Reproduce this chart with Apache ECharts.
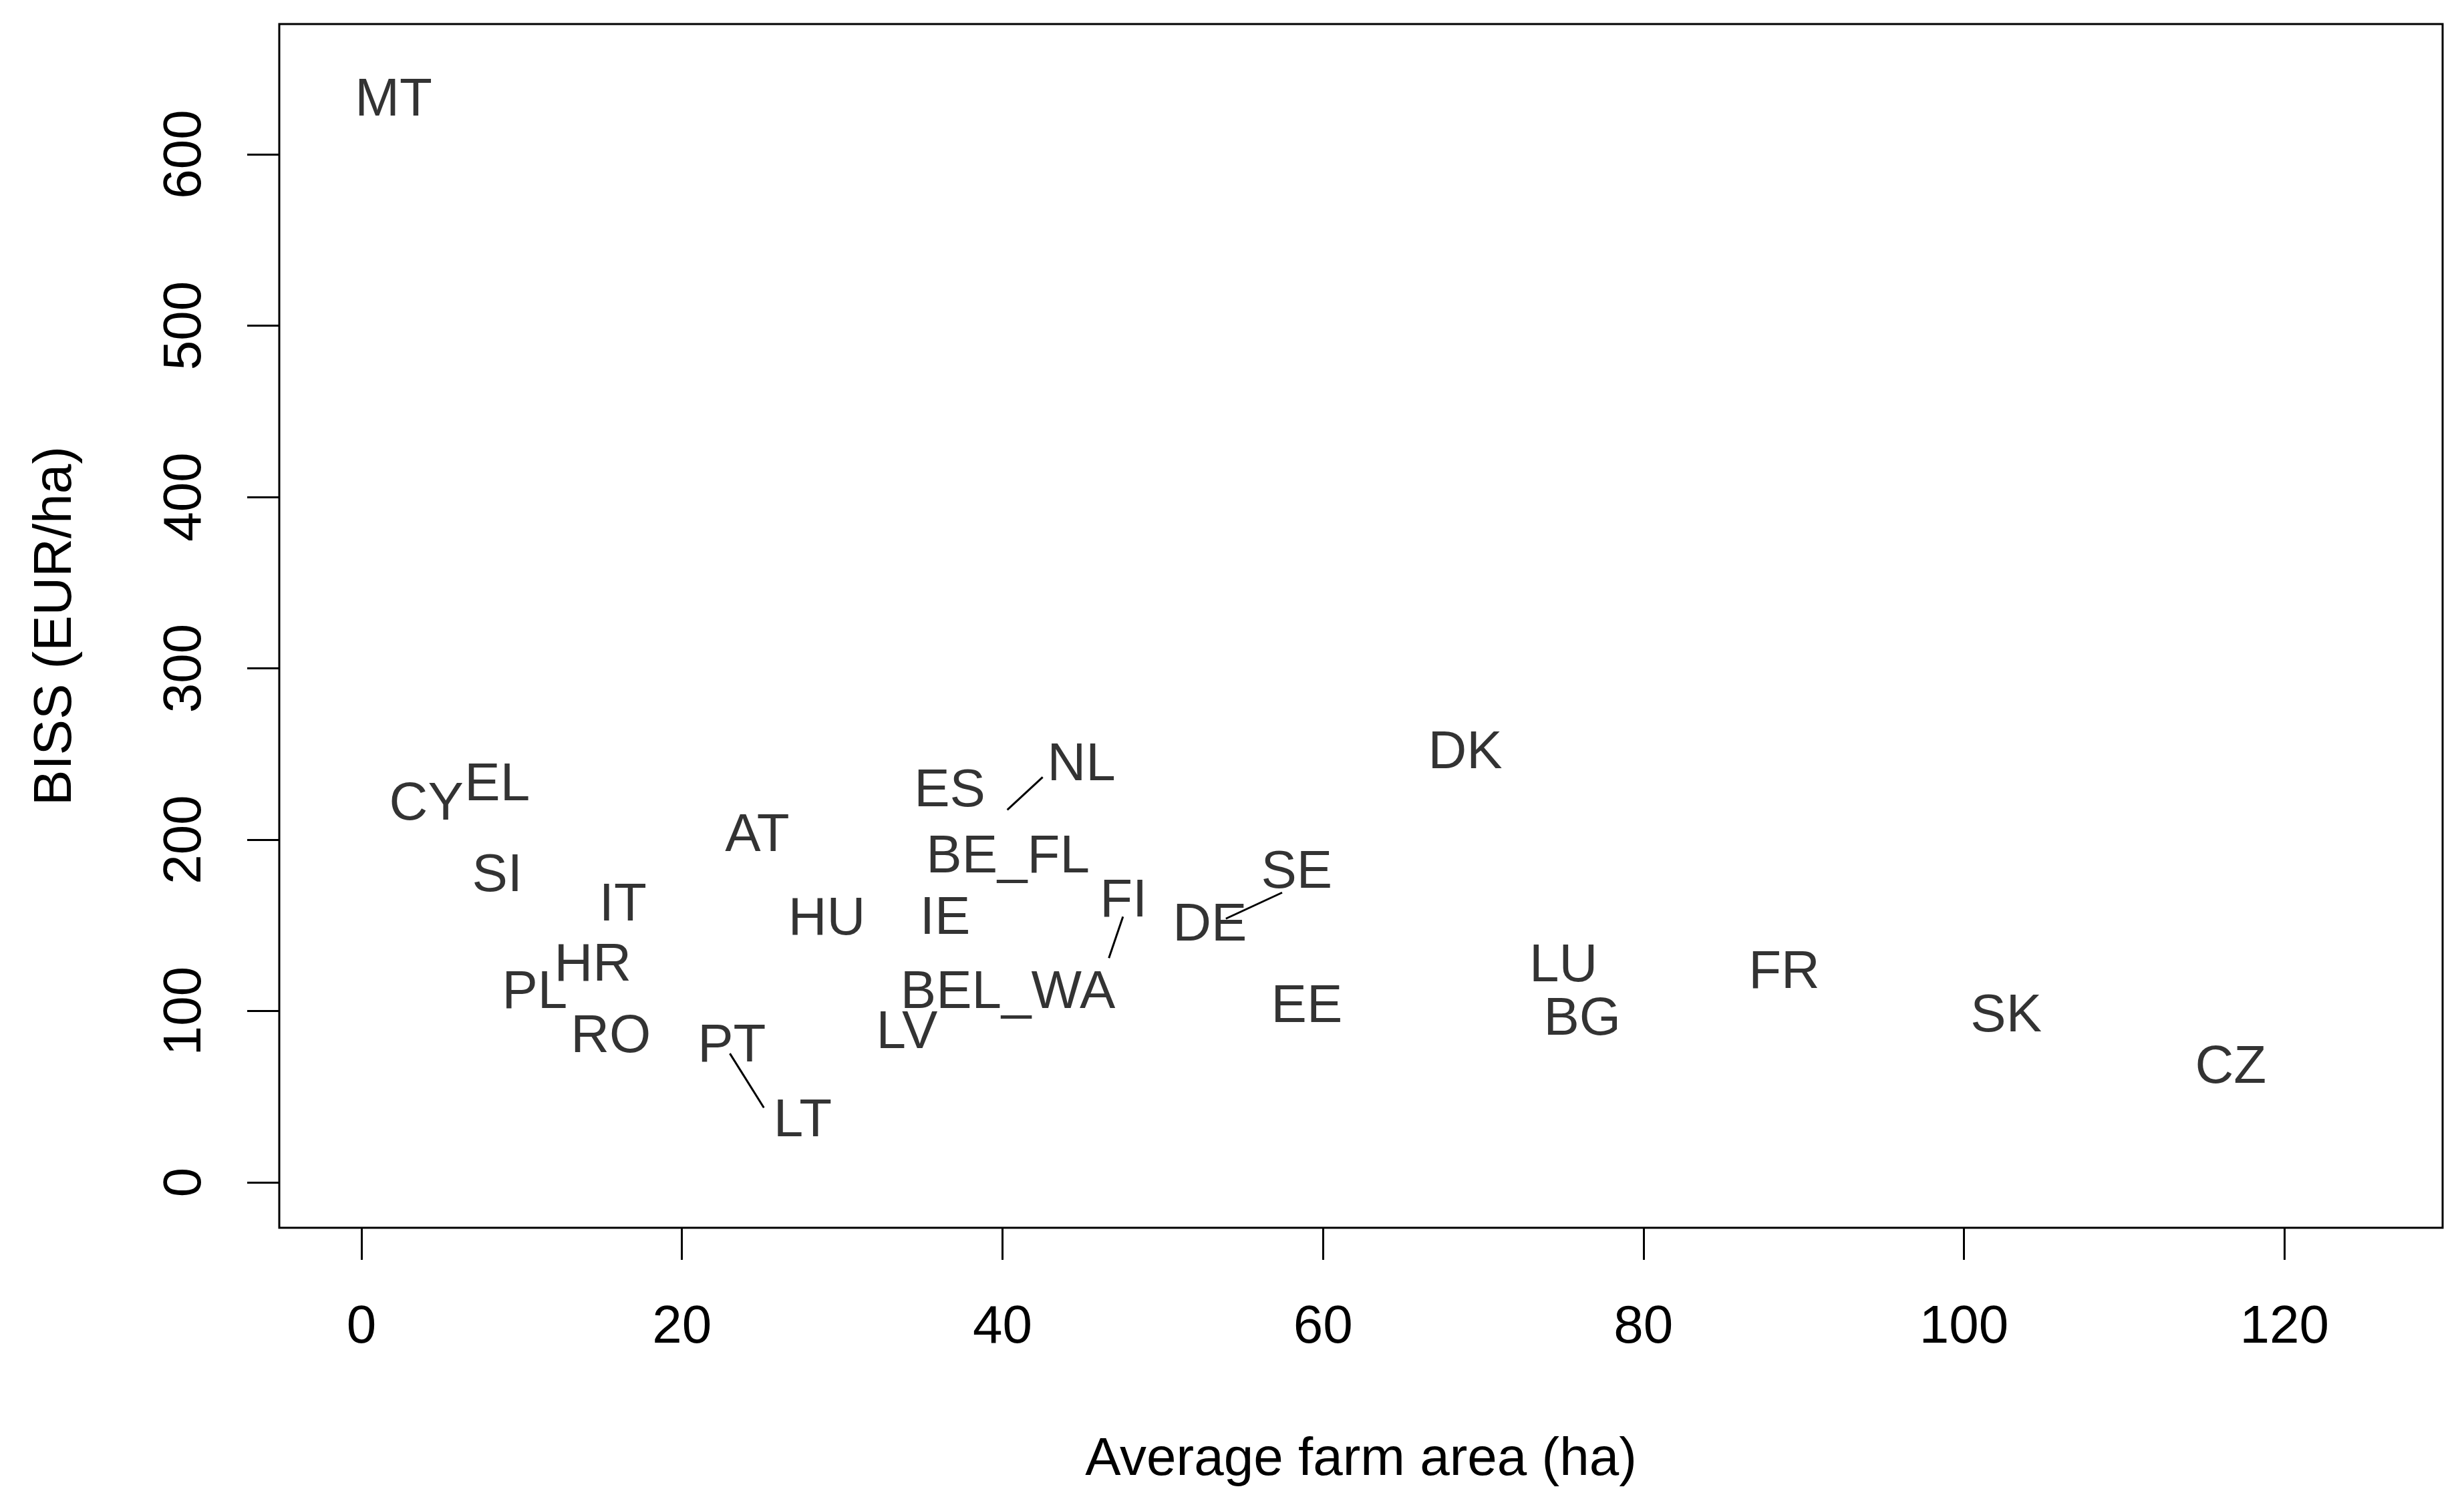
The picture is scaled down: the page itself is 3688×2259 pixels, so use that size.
<!DOCTYPE html>
<html>
<head>
<meta charset="utf-8">
<script src="https://cdn.jsdelivr.net/npm/echarts@6/dist/echarts.min.js"></script>
<style>
html,body{margin:0;padding:0;background:#fff;}
#chart{width:3688px;height:2259px;}
</style>
</head>
<body>
<div id="chart"></div>
<script>
// Member-state labels, placed at their (label) position in data units
const countries = ["MT","CY","EL","SI","IT","HR","PL","RO","AT","HU","PT","LT","ES","NL","BE_FL","IE","FI","BEL_WA","LV","DE","SE","EE","DK","LU","BG","FR","SK","CZ"];
const farmArea  = [2.0, 4.05, 8.47, 8.47, 16.31, 14.43, 10.81, 15.56, 24.70, 29.04, 23.11, 27.53, 36.71, 44.93, 40.34, 36.42, 47.56, 40.34, 34.04, 52.94, 58.36, 58.99, 68.88, 75.01, 76.18, 88.78, 102.63, 116.65];
const biss      = [633.5, 222.5, 233.8, 180.8, 163.6, 128.6, 112.6, 86.9, 204.5, 155.5, 81.4, 37.8, 230.3, 245.8, 191.7, 155.8, 166.0, 112.6, 89.2, 151.9, 182.7, 104.4, 252.5, 128.2, 97.0, 124.3, 99.0, 69.0];

// Leader lines joining displaced labels to their points (data units)
const leaderFrom = [[40.30, 217.4], [22.99, 75.2], [47.52, 155.1], [57.45, 169.1]];
const leaderTo   = [[42.51, 236.5], [25.11, 43.6], [46.64, 130.9], [53.94, 153.9]];

// Axis ticks
const xTicks = [0, 20, 40, 60, 80, 100, 120];
const yTicks = [0, 100, 200, 300, 400, 500, 600];

const FONT = '"Liberation Sans", Arial, sans-serif';
const FS = 80;

const chart = echarts.init(document.getElementById('chart'), null, {renderer: 'canvas'});

const option = {
  backgroundColor: '#ffffff',
  animation: false,
  grid: {
    left: 418, right: 3688 - 3656, top: 36, bottom: 2259 - 1838,
    show: true, borderColor: '#000', borderWidth: 3, backgroundColor: 'transparent'
  },
  xAxis: {
    type: 'value', min: -5.13, max: 129.87,
    name: 'Average farm area (ha)', nameLocation: 'middle', nameGap: 308,
    nameTextStyle: {fontFamily: FONT, fontSize: FS, color: '#000'},
    splitLine: {show: false},
    axisLine: {show: false, onZero: false},
    axisTick: {show: true, inside: false, length: 48, customValues: xTicks, lineStyle: {color: '#000', width: 3}},
    axisLabel: {show: true, margin: 110, customValues: xTicks, fontFamily: FONT, fontSize: FS, color: '#000'}
  },
  yAxis: {
    type: 'value', min: -26.5, max: 676,
    name: 'BISS (EUR/ha)', nameLocation: 'middle', nameGap: 294, nameRotate: 90,
    nameTextStyle: {fontFamily: FONT, fontSize: FS, color: '#000'},
    splitLine: {show: false},
    axisLine: {show: false, onZero: false},
    axisTick: {show: true, inside: false, length: 48, customValues: yTicks, lineStyle: {color: '#000', width: 3}},
    axisLabel: {show: true, margin: 100, rotate: 90, customValues: yTicks, fontFamily: FONT, fontSize: FS, color: '#000'}
  },
  series: [
    {
      type: 'lines',
      coordinateSystem: 'cartesian2d',
      silent: true,
      lineStyle: {color: '#000', width: 3, opacity: 1},
      data: leaderFrom.map((p, i) => ({coords: [p, leaderTo[i]]}))
    },
    {
      type: 'scatter',
      symbol: 'circle',
      symbolSize: 0,
      silent: true,
      itemStyle: {color: 'transparent'},
      label: {
        show: true, position: 'inside', offset: [0, 6],
        formatter: p => p.name,
        fontFamily: FONT, fontSize: FS, color: '#000'
      },
      data: countries.map((c, i) => ({name: c, value: [farmArea[i], biss[i]]}))
    }
  ]
};
chart.setOption(option);
</script>
</body>
</html>
